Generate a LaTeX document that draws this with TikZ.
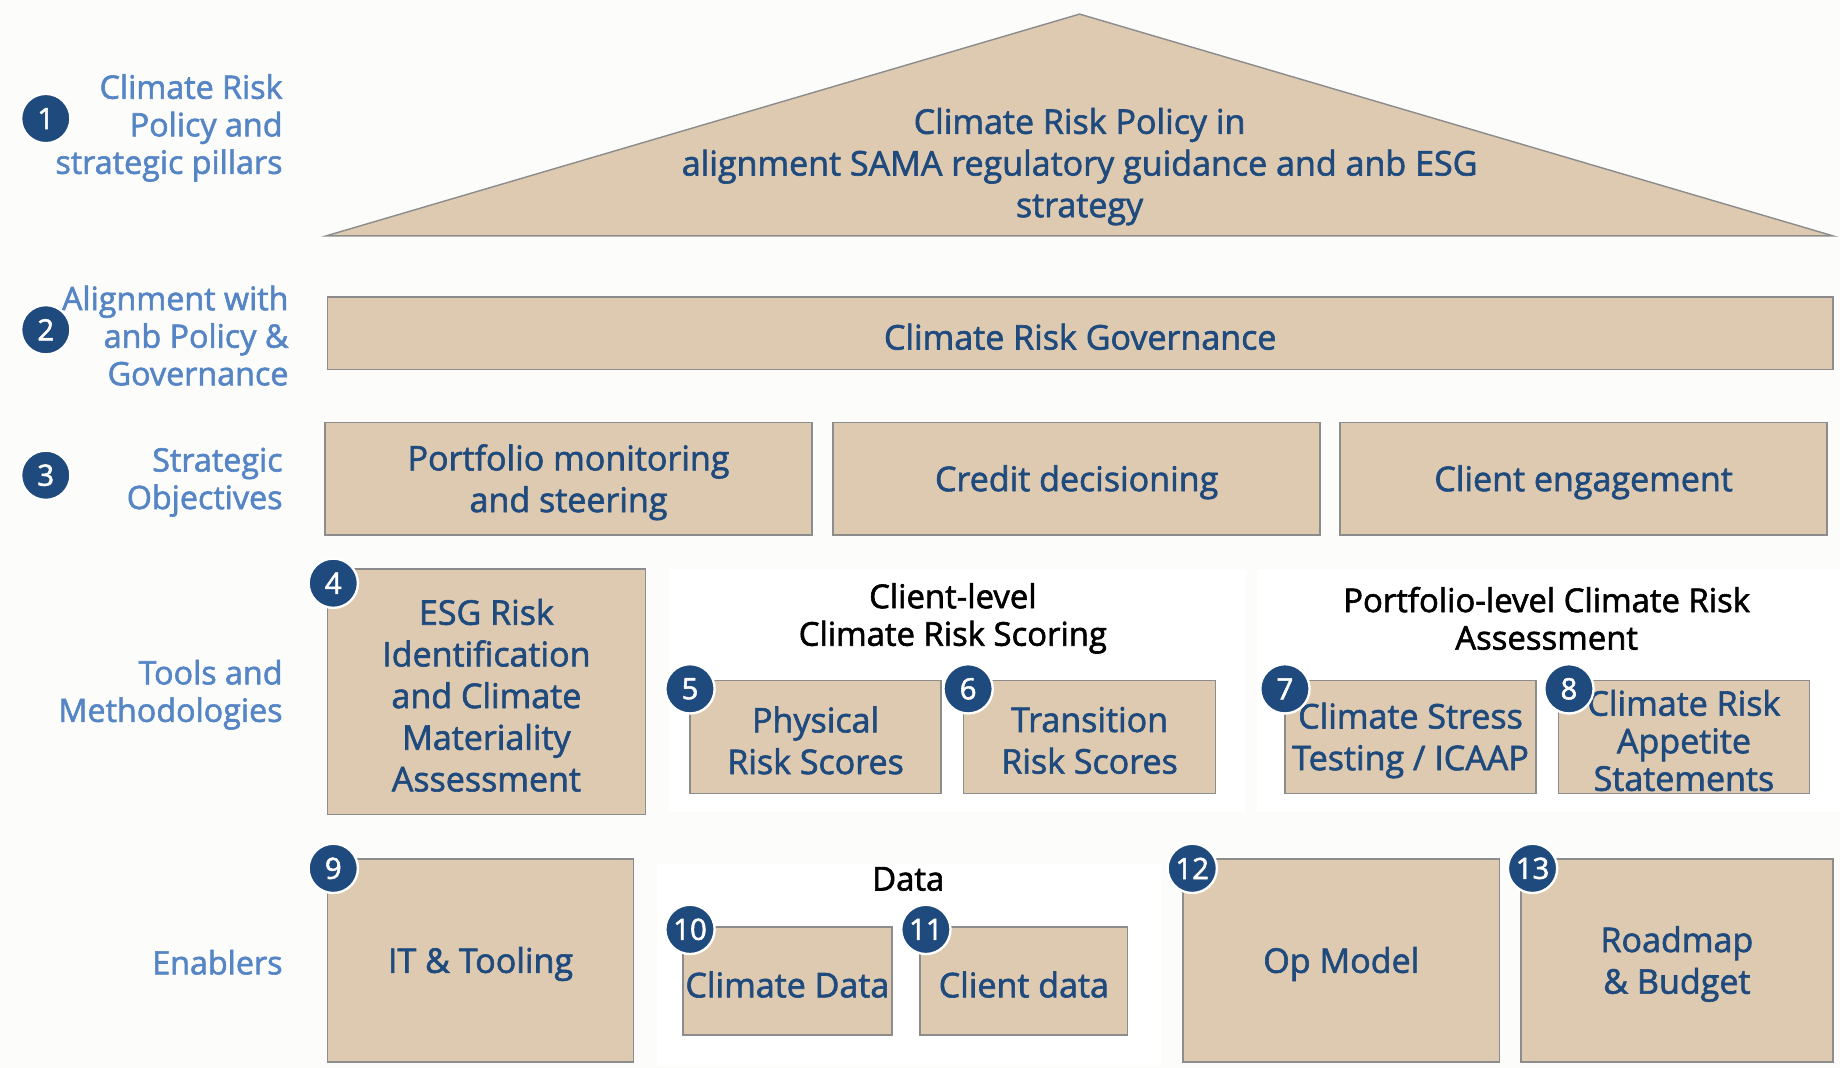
\documentclass[tikz,border=0pt]{standalone}
\usepackage{fontspec}
\setmainfont{Open Sans}
\newfontfamily\semib[FakeBold=1.8]{Open Sans}
\usetikzlibrary{positioning}
\definecolor{bgc}{HTML}{FCFCFB}
\definecolor{tan}{HTML}{DDCAB1}
\definecolor{edge}{HTML}{8C8C8C}
\definecolor{navy}{HTML}{1F4A7D}
\definecolor{lblue}{HTML}{5585C5}
\tikzset{
  box/.style={draw=edge, line width=1.2pt, fill=tan, inner sep=0pt},
  btext/.style={text=navy, align=center, inner sep=0pt, yshift=-3pt,
    font=\semib\fontsize{29}{35.5}\selectfont},
  badge/.style={circle, fill=navy, draw=white, line width=2pt, text=white, minimum size=42pt, inner sep=0pt,
    font=\semib\fontsize{25}{26}\selectfont},
  lbl/.style={text=lblue, align=right, anchor=east, inner sep=0pt, font=\semib\fontsize{27.5}{32}\selectfont},
  hdr/.style={text=black, align=center, inner sep=0pt, font=\semib\fontsize{28}{32}\selectfont},
  panel/.style={fill=white, draw=none}
}
\begin{document}
\begin{tikzpicture}[x=1pt, y=-1pt]
\useasboundingbox (0,0) rectangle (1568,910);
\fill[bgc] (0,0) rectangle (1568,910);
% panels
\fill[panel] (570,485) rectangle (1062,692);
\fill[panel] (1071,485) rectangle (1568,692);
\fill[panel] (560,736) rectangle (989,908);
% roof
\coordinate (apex) at (920,12);
\coordinate (bl) at (278,201);
\coordinate (br) at (1562,201);
\draw[draw=edge, line width=1.2pt, fill=tan] (bl) -- (apex) -- (br) -- cycle;
\node[btext] (roof) at (920,139) {Climate Risk Policy in\\alignment SAMA regulatory guidance and anb ESG\\strategy};
% governance
\node[box, minimum width=1283pt, minimum height=62pt] (gov) at (920.5,284) {};
\node[btext] (gov-t) at (gov.center) {Climate Risk Governance};
% strategic
\node[box, minimum width=415pt, minimum height=96pt] (s1) at (484.5,408) {};
\node[btext] (s1-t) at (s1.center) {Portfolio monitoring\\and steering};
\node[box, minimum width=415pt, minimum height=96pt] (s2) at (917.5,408) {};
\node[btext] (s2-t) at (s2.center) {Credit decisioning};
\node[box, minimum width=415pt, minimum height=96pt] (s3) at (1349.5,408) {};
\node[btext] (s3-t) at (s3.center) {Client engagement};
% tools
\node[box, minimum width=271pt, minimum height=209pt] (esg) at (414.5,589.5) {};
\node[btext] (esg-t) at (esg.center) {ESG Risk\\Identification\\and Climate\\Materiality\\Assessment};
\node[box, minimum width=214pt, minimum height=96pt] (phys) at (695,628) {};
\node[btext] (phys-t) at (phys.center) {Physical\\Risk Scores};
\node[box, minimum width=215pt, minimum height=96pt] (trans) at (928.5,628) {};
\node[btext] (trans-t) at (trans.center) {Transition\\Risk Scores};
\node[box, minimum width=214pt, minimum height=96pt] (stress) at (1202,628) {};
\node[btext] (stress-t) at (stress.center) {Climate Stress\\Testing / ICAAP};
\node[box, minimum width=214pt, minimum height=96pt] (appet) at (1435,628) {};
\node[btext, font=\semib\fontsize{29}{32}\selectfont] (appet-t) at (appet.center) {Climate Risk\\Appetite\\Statements};
% enablers
\node[box, minimum width=261pt, minimum height=173pt] (it) at (409.5,818.5) {};
\node[btext] (it-t) at (it.center) {IT \& Tooling};
\node[box, minimum width=178pt, minimum height=92pt] (cdata) at (671,836) {};
\node[btext] (cdata-t) at (cdata.center) {Climate Data};
\node[box, minimum width=177pt, minimum height=92pt] (cli) at (872.5,836) {};
\node[btext] (cli-t) at (cli.center) {Client data};
\node[box, minimum width=270pt, minimum height=173pt] (op) at (1143,818.5) {};
\node[btext] (op-t) at (op.center) {Op Model};
\node[box, minimum width=266pt, minimum height=173pt] (road) at (1429,818.5) {};
\node[btext] (road-t) at (road.center) {Roadmap\\\& Budget};
% headers
\node[hdr] (h1) at (812,527) {Client-level\\Climate Risk Scoring};
\node[hdr] (h2) at (1318,527) {Portfolio-level Climate Risk\\Assessment};
\node[hdr] (h3) at (774,749) {Data};
% left labels
\node[lbl] (l1) at (241,109) {Climate Risk\\Policy and\\strategic pillars};
\node[lbl] (l2) at (246,286) {Alignment with\\anb Policy \&\\Governance};
\node[lbl] (l3) at (241,411) {Strategic\\Objectives};
\node[lbl] (l4) at (241,592) {Tools and\\Methodologies};
\node[lbl] (l5) at (241,820) {Enablers};
% badges
\node[badge] (b1) at (39,101) {1};
\node[badge] (b2) at (39,281) {2};
\node[badge] (b3) at (39,405) {3};
\node[badge] (b4) at (284,497) {4};
\node[badge] (b5) at (588,587) {5};
\node[badge] (b6) at (825,587) {6};
\node[badge] (b7) at (1095,587) {7};
\node[badge] (b8) at (1337,587) {8};
\node[badge] (b9) at (284,740) {9};
\node[badge] (b10) at (588,792) {10};
\node[badge] (b11) at (789,792) {11};
\node[badge] (b12) at (1016,740) {12};
\node[badge] (b13) at (1306,740) {13};
\end{tikzpicture}
\end{document}
